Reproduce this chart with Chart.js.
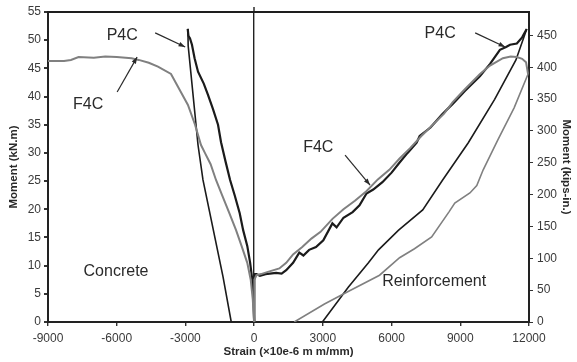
<!DOCTYPE html>
<html lang="en">
<head>
    <meta charset="UTF-8">
    <title>Moment vs strain - P4C / F4C</title>
    <script src="https://cdn.jsdelivr.net/npm/chart.js"></script>
    <style>
        body { margin: 0; background: #fff; }
        #wrap { width: 577px; height: 362px; }
    </style>
</head>
<body>
    <div id="wrap"><canvas id="grafico" width="577" height="362"></canvas></div>

    <script>
        // axis ranges / ticks
        const strainTicks = [-9000, 12000, 3000];   // min, max, step
        const momentTicks = [0, 55, 5];             // kN.m
        const kipsStep = 50;                         // kips-in.
        const kNmToKipIn = 8.8507;

        // concrete side (compression strain)
        const p4cConcStrain = [0, -30, -80, -175, -300, -480, -630, -850, -1050, -1250, -1445, -1577, -1800, -2015, -2200, -2450, -2600, -2715, -2800, -2870, -2900];
        const p4cConcMoment = [0, 4, 7.5, 10.5, 13.5, 16.3, 19.3, 22.5, 25.2, 28.5, 31.9, 35, 37.8, 40.3, 42.3, 44.4, 46.8, 49.2, 50.3, 50.8, 52];
        const p4cConcUnlStrain = [-2900, -2890, -2880, -2450, -2234, -1358, -1000];
        const p4cConcUnlMoment = [52, 51.5, 49, 31.4, 25.2, 8, 0];

        const f4cConcStrain = [0, -60, -150, -300, -550, -790, -1100, -1400, -1665, -1900, -2150, -2320, -2580, -2890, -3200, -3630, -4200, -4600, -5040, -5350, -6000, -6500, -7000, -7665, -8000, -8300, -9000];
        const f4cConcMoment = [0, 4, 7.5, 10.5, 13.5, 16.3, 19.5, 22.5, 25.2, 28, 30, 31.4, 35, 38.5, 40.8, 44, 45.3, 46, 46.5, 46.8, 47, 47.1, 46.9, 47, 46.5, 46.3, 46.3];

        // reinforcement side (tension strain)
        const p4cReinStrain = [0, 0, 10, 40, 100, 250, 500, 960, 1200, 1400, 1700, 1971, 2150, 2400, 2700, 3020, 3416, 3600, 3900, 4300, 4600, 4905, 5200, 5600, 6000, 6350, 6700, 7095, 7227, 7700, 8200, 8670, 9200, 9855, 10300, 10730, 11000, 11170, 11470, 11700, 11900];
        const p4cReinMoment = [0, 4, 7.5, 8.5, 8.5, 8.2, 8.5, 8.7, 8.6, 9.2, 10.5, 12.3, 11.8, 12.8, 13.3, 14.5, 17.5, 16.8, 18.5, 19.5, 20.7, 22.8, 23.5, 24.8, 26.5, 28.3, 30, 31.8, 33, 34.5, 36.8, 38.7, 41, 43.6, 45.8, 48.3, 48.8, 49.2, 49.4, 50.5, 52];
        const p4cReinUnlStrain = [11900, 11430, 10500, 9350, 8230, 7360, 6307, 5430, 4990, 4117, 2980];
        const p4cReinUnlMoment = [52, 46.5, 39.5, 31.8, 25.2, 19.9, 16.3, 12.8, 10.5, 6.2, 0];

        const f4cReinStrain = [0, 10, 100, 300, 600, 1100, 1400, 1700, 2100, 2500, 2900, 3420, 3900, 4400, 4900, 5400, 5900, 6350, 6800, 7300, 7800, 8300, 8670, 9200, 9860, 10300, 10860, 11200, 11470, 11700, 11870, 11960];
        const f4cReinMoment = [0, 7.5, 8.3, 8.5, 8.9, 9.5, 10.5, 12, 13.3, 14.8, 16, 18.3, 20, 21.5, 23.2, 25.3, 27, 29, 30.8, 33, 35, 37, 39, 41.3, 44, 45.5, 46.8, 47.1, 47, 46.7, 46.1, 44];
        const f4cReinUnlStrain = [11960, 11350, 10640, 10000, 9720, 9420, 8760, 8500, 7750, 7000, 6350, 5475, 4000, 3070, 1750];
        const f4cReinUnlMoment = [44, 38, 32.3, 27, 24.2, 22.9, 21.1, 19.5, 15.1, 13, 11.4, 8.3, 5.2, 3.2, 0];

        // labels on the plot: [text, strain, moment, lineFromStrain, lineFromMoment, lineToStrain, lineToMoment]
        const notes = [
            ['P4C', -5760, 50.9, -4320, 51.3, -3010, 48.8],
            ['F4C', -7250, 38.5, -5980, 40.8, -5110, 47],
            ['F4C', 2800, 31, 3970, 29.6, 5060, 24.3],
            ['P4C', 8120, 51.1, 9650, 51.3, 10960, 48.8],
            ['Concrete', -6030, 9],
            ['Reinforcement', 7860, 7.1]
        ];

        function pares(xs, ys) {
            return xs.map((x, i) => ({ x: x, y: ys[i] }));
        }

        const preto = '#1b1b1b';
        const cinza = '#808080';
        const fonte = '"Liberation Sans", Arial, sans-serif';

        function serie(xs, ys, cor, largura) {
            return {
                data: pares(xs, ys),
                borderColor: cor,
                borderWidth: largura,
                pointRadius: 0,
                tension: 0,
                fill: false
            };
        }

        // moldura superior + rótulos com setas
        const notasPlugin = {
            id: 'notas',
            afterDraw(chart) {
                const c = chart.ctx;
                const area = chart.chartArea;
                const sx = chart.scales.x, sy = chart.scales.y;
                c.save();
                c.fillStyle = '#1e1e1e';
                c.fillRect(area.left - 1, area.top - 1, area.right - area.left + 2, 2);
                // linha do zero passa um pouco acima da moldura
                const x0 = Math.round(sx.getPixelForValue(0));
                c.fillRect(x0 - 0.7, area.top - 5, 1.4, 5);

                c.fillStyle = '#2a2a2a';
                c.strokeStyle = '#2a2a2a';
                c.font = '16px ' + fonte;
                c.textAlign = 'center';
                c.textBaseline = 'middle';
                notes.forEach(n => {
                    c.fillText(n[0], sx.getPixelForValue(n[1]), sy.getPixelForValue(n[2]));
                    if (n.length > 3) {
                        const x1 = sx.getPixelForValue(n[3]), y1 = sy.getPixelForValue(n[4]);
                        const x2 = sx.getPixelForValue(n[5]), y2 = sy.getPixelForValue(n[6]);
                        c.lineWidth = 1.2;
                        c.beginPath();
                        c.moveTo(x1, y1);
                        c.lineTo(x2, y2);
                        c.stroke();
                        // ponta da seta
                        const a = Math.atan2(y2 - y1, x2 - x1);
                        c.beginPath();
                        c.moveTo(x2, y2);
                        c.lineTo(x2 - 7 * Math.cos(a - 0.35), y2 - 7 * Math.sin(a - 0.35));
                        c.lineTo(x2 - 7 * Math.cos(a + 0.35), y2 - 7 * Math.sin(a + 0.35));
                        c.closePath();
                        c.fill();
                    }
                });
                c.restore();
            }
        };

        const semVirgula = v => String(v);

        new Chart(document.getElementById('grafico'), {
            type: 'line',
            data: {
                datasets: [
                    serie(f4cConcStrain, f4cConcMoment, cinza, 2),
                    serie(f4cReinStrain, f4cReinMoment, cinza, 2),
                    serie(f4cReinUnlStrain, f4cReinUnlMoment, cinza, 1.6),
                    serie(p4cConcStrain, p4cConcMoment, preto, 2.2),
                    serie(p4cConcUnlStrain, p4cConcUnlMoment, preto, 1.6),
                    serie(p4cReinStrain, p4cReinMoment, preto, 2.2),
                    serie(p4cReinUnlStrain, p4cReinUnlMoment, preto, 1.6)
                ]
            },
            options: {
                responsive: false,
                animation: false,
                devicePixelRatio: 1,
                layout: { padding: { top: 12 } },
                plugins: {
                    legend: { display: false },
                    tooltip: { enabled: false }
                },
                scales: {
                    x: {
                        type: 'linear',
                        min: strainTicks[0],
                        max: strainTicks[1],
                        afterFit: s => { s.height = 40; },
                        ticks: {
                            stepSize: strainTicks[2],
                            callback: semVirgula,
                            color: '#3a3a3a',
                            font: { family: fonte, size: 12 },
                            padding: 5,
                            maxRotation: 0
                        },
                        grid: {
                            color: ctx => (ctx.tick && ctx.tick.value === 0) ? '#222' : 'rgba(0,0,0,0)',
                            lineWidth: 1.4,
                            tickColor: '#333',
                            tickLength: 4
                        },
                        border: { display: true, color: '#222', width: 2 },
                        title: {
                            display: true,
                            text: 'Strain (×10e-6 m m/mm)',
                            color: '#2a2a2a',
                            font: { family: fonte, size: 11.5, weight: 'bold' },
                            padding: { top: 0, bottom: 3 }
                        }
                    },
                    y: {
                        type: 'linear',
                        position: 'left',
                        min: momentTicks[0],
                        max: momentTicks[1],
                        afterFit: s => { s.width = 48; },
                        ticks: {
                            stepSize: momentTicks[2],
                            callback: semVirgula,
                            color: '#3a3a3a',
                            font: { family: fonte, size: 12 },
                            padding: 3
                        },
                        grid: {
                            drawOnChartArea: true,
                            color: ctx => (ctx.index === ctx.scale.ticks.length - 1) ? '#222' : 'rgba(0,0,0,0)',
                            lineWidth: 2,
                            tickColor: '#333',
                            tickLength: 4
                        },
                        border: { display: true, color: '#222', width: 2 },
                        title: {
                            display: true,
                            text: 'Moment (kN.m)',
                            color: '#2a2a2a',
                            font: { family: fonte, size: 11.5, weight: 'bold' },
                            padding: { top: 7, bottom: 0 }
                        }
                    },
                    y2: {
                        type: 'linear',
                        position: 'right',
                        min: momentTicks[0] * kNmToKipIn,
                        max: momentTicks[1] * kNmToKipIn,
                        afterFit: s => { s.width = 48; },
                        afterBuildTicks: s => { s.ticks = s.ticks.filter(t => t.value % kipsStep === 0); },
                        ticks: {
                            stepSize: kipsStep,
                            callback: semVirgula,
                            color: '#3a3a3a',
                            font: { family: fonte, size: 12 },
                            padding: 4
                        },
                        grid: {
                            drawOnChartArea: false,
                            color: '#333',
                            tickLength: 4
                        },
                        border: { display: true, color: '#222', width: 2 },
                        title: {
                            display: true,
                            text: 'Moment (kips-in.)',
                            color: '#2a2a2a',
                            font: { family: fonte, size: 11.5, weight: 'bold' },
                            padding: { top: 4, bottom: 0 }
                        }
                    }
                }
            },
            plugins: [notasPlugin]
        });
    </script>
</body>
</html>
